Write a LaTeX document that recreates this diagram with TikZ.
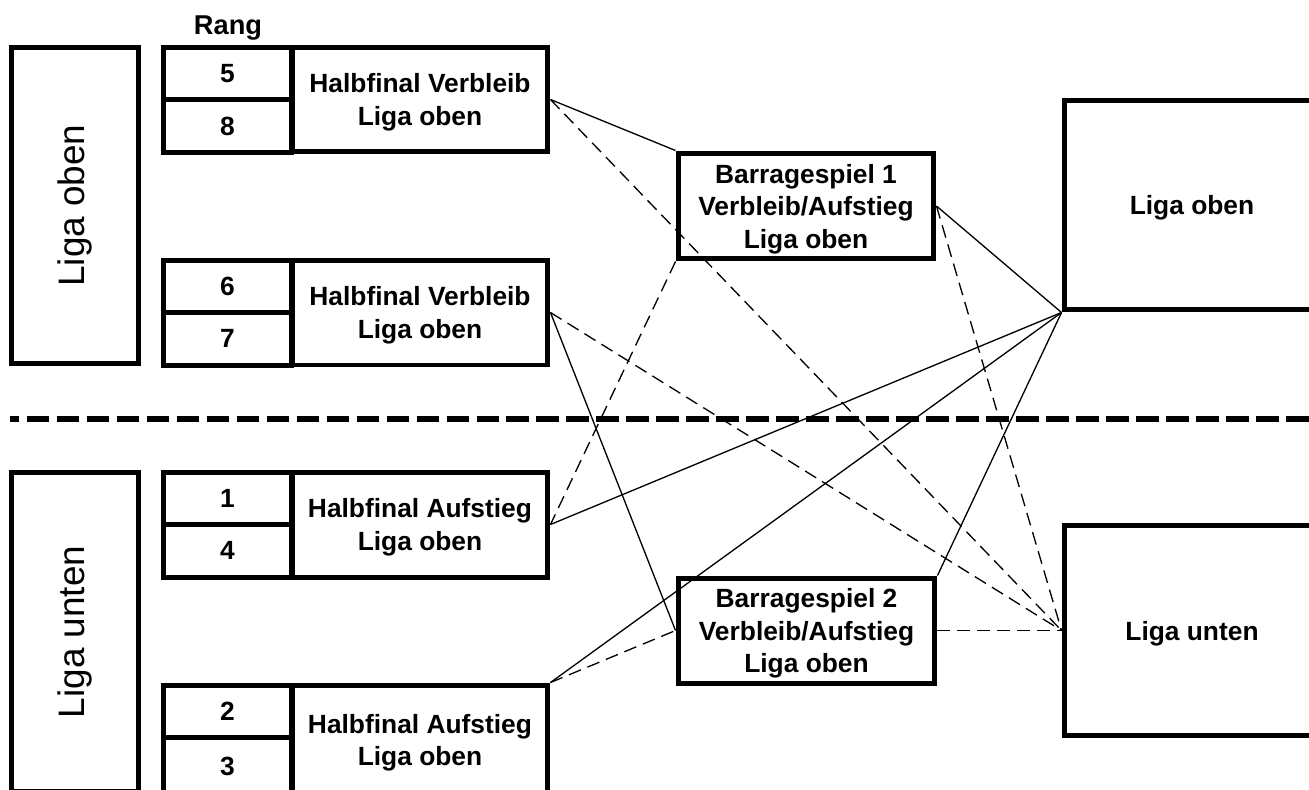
\documentclass[tikz,border=0pt]{standalone}
\usepackage{fontspec}
\setmainfont{Liberation Sans}
\begin{document}
\begin{tikzpicture}[x=0.02cm,y=-0.02cm,
    thickbox/.style={draw,line width=0.1cm,inner sep=0pt,align=center,text depth=0pt,
      font=\bfseries\fontsize{15}{18.5}\selectfont},
    rankcell/.style={thickbox,minimum width=2.58cm,minimum height=1.05cm},
    titlecell/.style={thickbox,minimum width=5.12cm,minimum height=2.1cm},
    ligabox/.style={draw,line width=0.1cm,inner sep=0pt,rotate=90,
      font=\fontsize{21}{24}\selectfont,minimum width=6.34cm,minimum height=2.55cm},
    link/.style={line width=0.75pt},
    dlink/.style={line width=0.75pt,dash pattern=on 0.26cm off 0.14cm}]
  \useasboundingbox (0,0) rectangle (1309,789);
  \clip (0,0) rectangle (1309,789);

  % left side: the two leagues
  \node[ligabox] (lo) at (75,205.5) {Liga oben};
  \node[ligabox,minimum width=6.4cm] (lu) at (75,632) {Liga unten};
  \node[font=\bfseries\fontsize{15.5}{18.5}\selectfont,anchor=base] (rang) at (228,34.3) {Rang};

  % semifinals
  \node[rankcell] (r5) at (227.5,73.5) {5};
  \node[rankcell] (r8) at (227.5,126) {8};
  \node[titlecell] (g1) at (420,99.5) {Halbfinal Verbleib\\Liga oben};
  \node[rankcell] (r6) at (227.5,286.25) {6};
  \node[rankcell] (r7) at (227.5,338.75) {7};
  \node[titlecell] (g2) at (420,312.5) {Halbfinal Verbleib\\Liga oben};
  \node[rankcell] (r1) at (227.5,498.25) {1};
  \node[rankcell] (r4) at (227.5,550.75) {4};
  \node[titlecell] (g3) at (420,524.5) {Halbfinal Aufstieg\\Liga oben};
  \node[rankcell] (r2) at (227.5,711.25) {2};
  \node[rankcell,minimum height=1.15cm] (r3) at (227.5,766.25) {3};
  \node[titlecell,minimum height=2.2cm] (g4) at (420,740) {Halbfinal Aufstieg\\Liga oben};

  % barrage games
  \node[titlecell,minimum height=2.12cm] (b1) at (806,206) {Barragespiel 1\\Verbleib/Aufstieg\\Liga oben};
  \node[titlecell,minimum width=5.14cm] (b2) at (806.5,630.5) {Barragespiel 2\\Verbleib/Aufstieg\\Liga oben};

  % final leagues
  \node[titlecell,minimum height=4.2cm] (ro) at (1192,205) {Liga oben};
  \node[titlecell,minimum height=4.22cm] (ru) at (1192,630.5) {Liga unten};

  % separation
  \coordinate (sepl) at (10,419);
  \coordinate (sepr) at (1320,419);
  \draw[line width=0.12cm,dash pattern=on 0.454cm off 0.146cm,dash phase=0.268cm] (sepl) -- (sepr);

  \begin{scope}[link]
    \draw (g1.east) -- (b1.north west);
    \draw (b1.east) -- (ro.south west);
    \draw (g2.east) -- (b2.west);
    \draw (g3.east) -- (ro.south west);
    \draw (g4.north east) -- (ro.south west);
    \draw (b2.north east) -- (ro.south west);
  \end{scope}
  \begin{scope}[dlink]
    \draw (g1.east) -- (ru.west);
    \draw (b1.south west) -- (g3.east);
    \draw (g2.east) -- (ru.west);
    \draw (b1.east) -- (ru.west);
    \draw (g4.north east) -- (b2.west);
    \draw (b2.east) -- (ru.west);
  \end{scope}
\end{tikzpicture}
\end{document}
